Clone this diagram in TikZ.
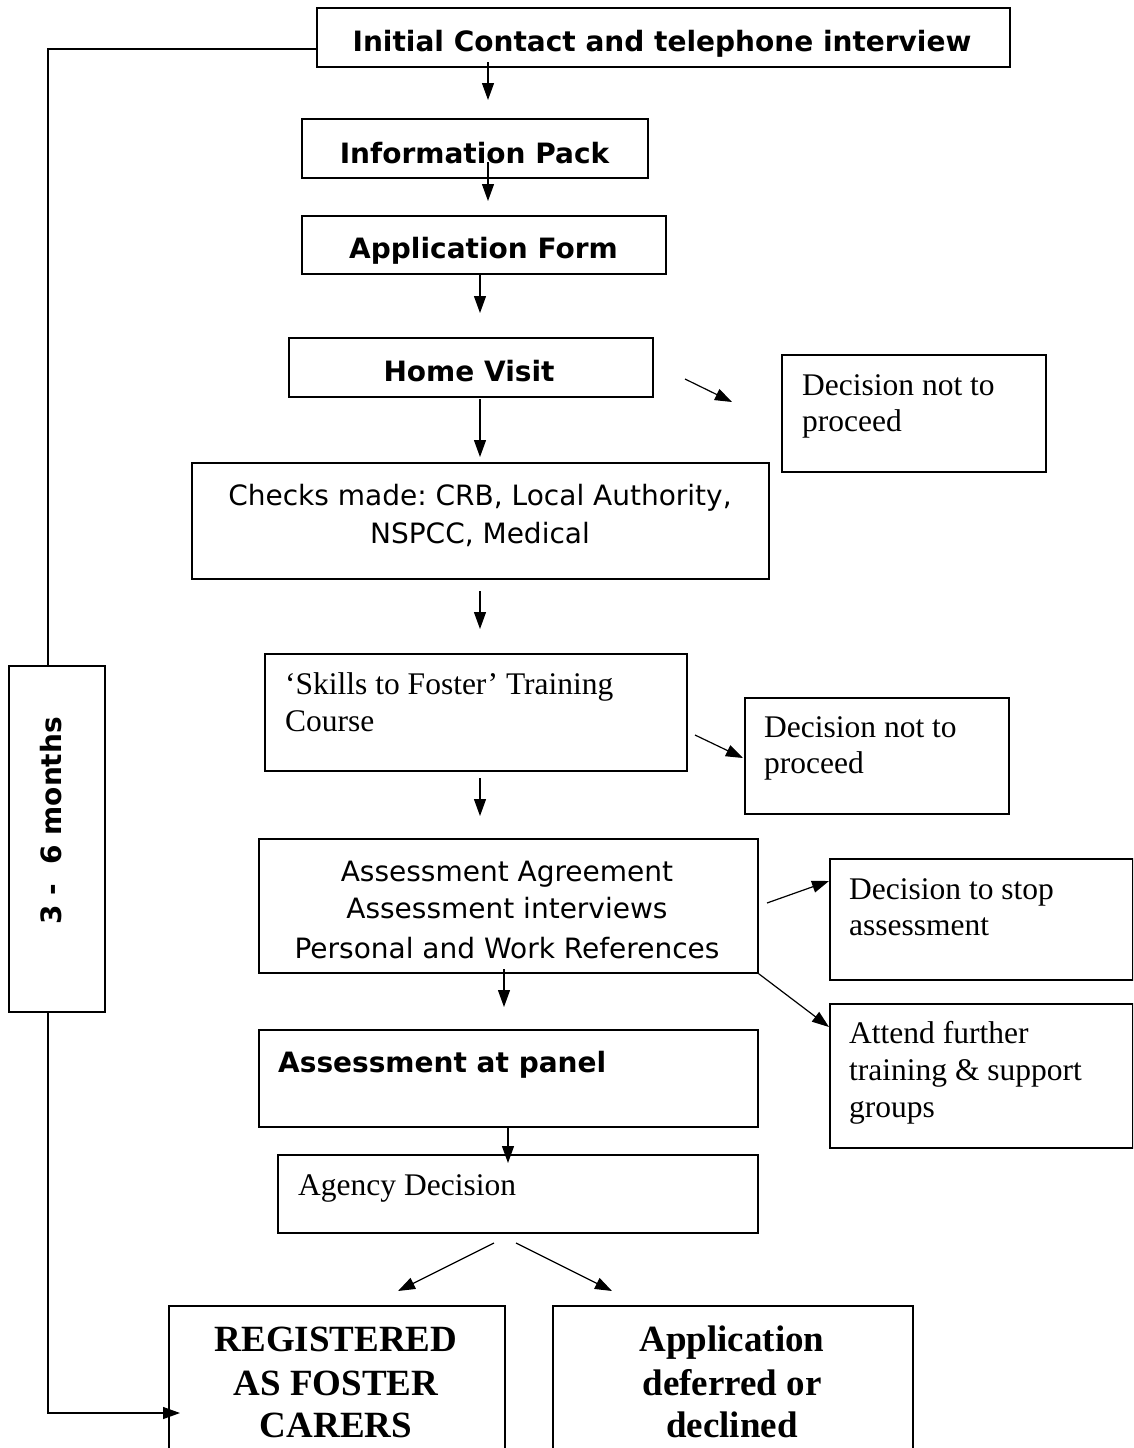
\documentclass[tikz,border=0pt]{standalone}
\usepackage{fontspec}
\setmainfont{Liberation Serif}
\setsansfont{DejaVu Sans}
\usetikzlibrary{arrows.meta}
\frenchspacing

\begin{document}
\begin{tikzpicture}[x=1pt,y=-1pt,
    box/.style={draw,line width=1.8pt,anchor=north west,inner sep=0pt},
    hd/.style={font=\sffamily\bfseries\fontsize{28}{34}\selectfont,inner sep=0pt},
    sf/.style={font=\sffamily\fontsize{28}{34}\selectfont,inner sep=0pt},
    rm/.style={font=\fontsize{31.5}{37}\selectfont,inner sep=0pt},
    bigrm/.style={font=\bfseries\fontsize{37}{44}\selectfont,inner sep=0pt},
    link/.style={line width=1.2pt},
    arr/.style={line width=1.2pt,-{Triangle[length=17pt,width=12pt]}} ]
    \useasboundingbox (0,0) rectangle (1133,1448);
    \clip (0,0) rectangle (1133,1448);
    % boxes
    \node[box,minimum width=693,minimum height=59] (contact) at (316,7) {};
    \node[box,minimum width=346,minimum height=59] (info) at (301,118) {};
    \node[box,minimum width=364,minimum height=58] (appform) at (301,215) {};
    \node[box,minimum width=364,minimum height=59] (home) at (288,337) {};
    \node[box,minimum width=264,minimum height=117] (notA) at (781,354) {};
    \node[box,minimum width=577,minimum height=116] (checks) at (191,462) {};
    \node[box,minimum width=422,minimum height=117] (skills) at (264,653) {};
    \node[box,minimum width=264,minimum height=116] (notB) at (744,697) {};
    \node[box,minimum width=499,minimum height=134] (agree) at (258,838) {};
    \node[box,minimum width=303,minimum height=121] (stop) at (829,858) {};
    \node[box,minimum width=303,minimum height=144] (attend) at (829,1003) {};
    \node[box,minimum width=499,minimum height=97] (panel) at (258,1029) {};
    \node[box,minimum width=480,minimum height=78] (agency) at (277,1154) {};
    \node[box,minimum width=336,minimum height=170] (registered) at (168,1305) {};
    \node[box,minimum width=360,minimum height=170] (declined) at (552,1305) {};
    \node[box,minimum width=96,minimum height=346] (months) at (8,665) {};
    % texts
    \node[hd,anchor=base] (contactT) at (662,51) {Initial Contact and telephone interview};
    \node[hd,anchor=base] (infoT) at (474.5,163) {Information Pack};
    \node[hd,anchor=base] (appformT) at (483.5,258) {Application Form};
    \node[hd,anchor=base] (homeT) at (469,381) {Home Visit};
    \node[rm,anchor=base west] (notAT1) at (802,395) {Decision not to};
    \node[rm,anchor=base west] (notAT2) at (802,431) {proceed};
    \node[sf,anchor=base] (checksT1) at (480,505) {Checks made: CRB, Local Authority,};
    \node[sf,anchor=base] (checksT2) at (480,543) {NSPCC, Medical};
    \node[rm,anchor=base west] (skillsT1) at (285,694) {`Skills to Foster' Training};
    \node[rm,anchor=base west] (skillsT2) at (285,731) {Course};
    \node[rm,anchor=base west] (notBT1) at (764,737) {Decision not to};
    \node[rm,anchor=base west] (notBT2) at (764,773) {proceed};
    \node[sf,anchor=base] (agreeT1) at (507,881) {Assessment Agreement};
    \node[sf,anchor=base] (agreeT2) at (507,918) {Assessment interviews};
    \node[sf,anchor=base] (agreeT3) at (507,958) {Personal and Work References};
    \node[rm,anchor=base west] (stopT1) at (849,899) {Decision to stop};
    \node[rm,anchor=base west] (stopT2) at (849,935) {assessment};
    \node[rm,anchor=base west] (attendT1) at (849,1043) {Attend further};
    \node[rm,anchor=base west] (attendT2) at (849,1080) {training \& support};
    \node[rm,anchor=base west] (attendT3) at (849,1117) {groups};
    \node[hd,anchor=base west] (panelT) at (278,1072) {Assessment at panel};
    \node[rm,anchor=base west] (agencyT) at (298,1195) {Agency Decision};
    \node[bigrm,anchor=base] (regT1) at (336,1351) {REGISTERED};
    \node[bigrm,anchor=base] (regT2) at (336,1395) {AS FOSTER};
    \node[bigrm,anchor=base] (regT3) at (336,1437) {CARERS};
    \node[bigrm,anchor=base] (decT1) at (732,1351) {Application};
    \node[bigrm,anchor=base] (decT2) at (732,1395) {deferred or};
    \node[bigrm,anchor=base] (decT3) at (732,1437) {declined};
    \node[hd,rotate=90,anchor=base] (monthsT) at (61,821) {3 -\ \ 6 months};
    % arrow ends
    \coordinate (a1s) at (488,62);   \coordinate (a1e) at (488,100);
    \coordinate (a2s) at (488,162);  \coordinate (a2e) at (488,201);
    \coordinate (a3s) at (480,275);  \coordinate (a3e) at (480,313);
    \coordinate (a4s) at (685,379);  \coordinate (a4e) at (732,402);
    \coordinate (a5s) at (480,399);  \coordinate (a5e) at (480,457);
    \coordinate (a6s) at (480,591);  \coordinate (a6e) at (480,629);
    \coordinate (a7s) at (695,735);  \coordinate (a7e) at (743,758);
    \coordinate (a8s) at (480,778);  \coordinate (a8e) at (480,816);
    \coordinate (a9s) at (767,903);  \coordinate (a9e) at (829,881);
    \coordinate (a10s) at (504,969); \coordinate (a10e) at (504,1007);
    \coordinate (a11e) at (829,1027);
    \coordinate (a12s) at (508,1126); \coordinate (a12e) at (508,1163);
    \coordinate (split1) at (494,1243); \coordinate (splitA) at (398,1291);
    \coordinate (split2) at (516,1243); \coordinate (splitB) at (612,1291);
    \coordinate (regin) at (180,1413);
    % connectors
    \draw[arr] (a1s) -- (a1e);
    \draw[arr] (a2s) -- (a2e);
    \draw[arr] (a3s) -- (a3e);
    \draw[arr] (a4s) -- (a4e);
    \draw[arr] (a5s) -- (a5e);
    \draw[arr] (a6s) -- (a6e);
    \draw[arr] (a7s) -- (a7e);
    \draw[arr] (a8s) -- (a8e);
    \draw[arr] (a9s) -- (a9e);
    \draw[arr] (a10s) -- (a10e);
    \draw[arr] (agree.south east) -- (a11e);
    \draw[arr] (a12s) -- (a12e);
    \draw[arr] (split1) -- (splitA);
    \draw[arr] (split2) -- (splitB);
    \draw[link] ([yshift=-11.5]contact.west) -| ([xshift=-9]months.north);
    \draw[arr] ([xshift=-9]months.south) |- (regin);
\end{tikzpicture}
\end{document}
